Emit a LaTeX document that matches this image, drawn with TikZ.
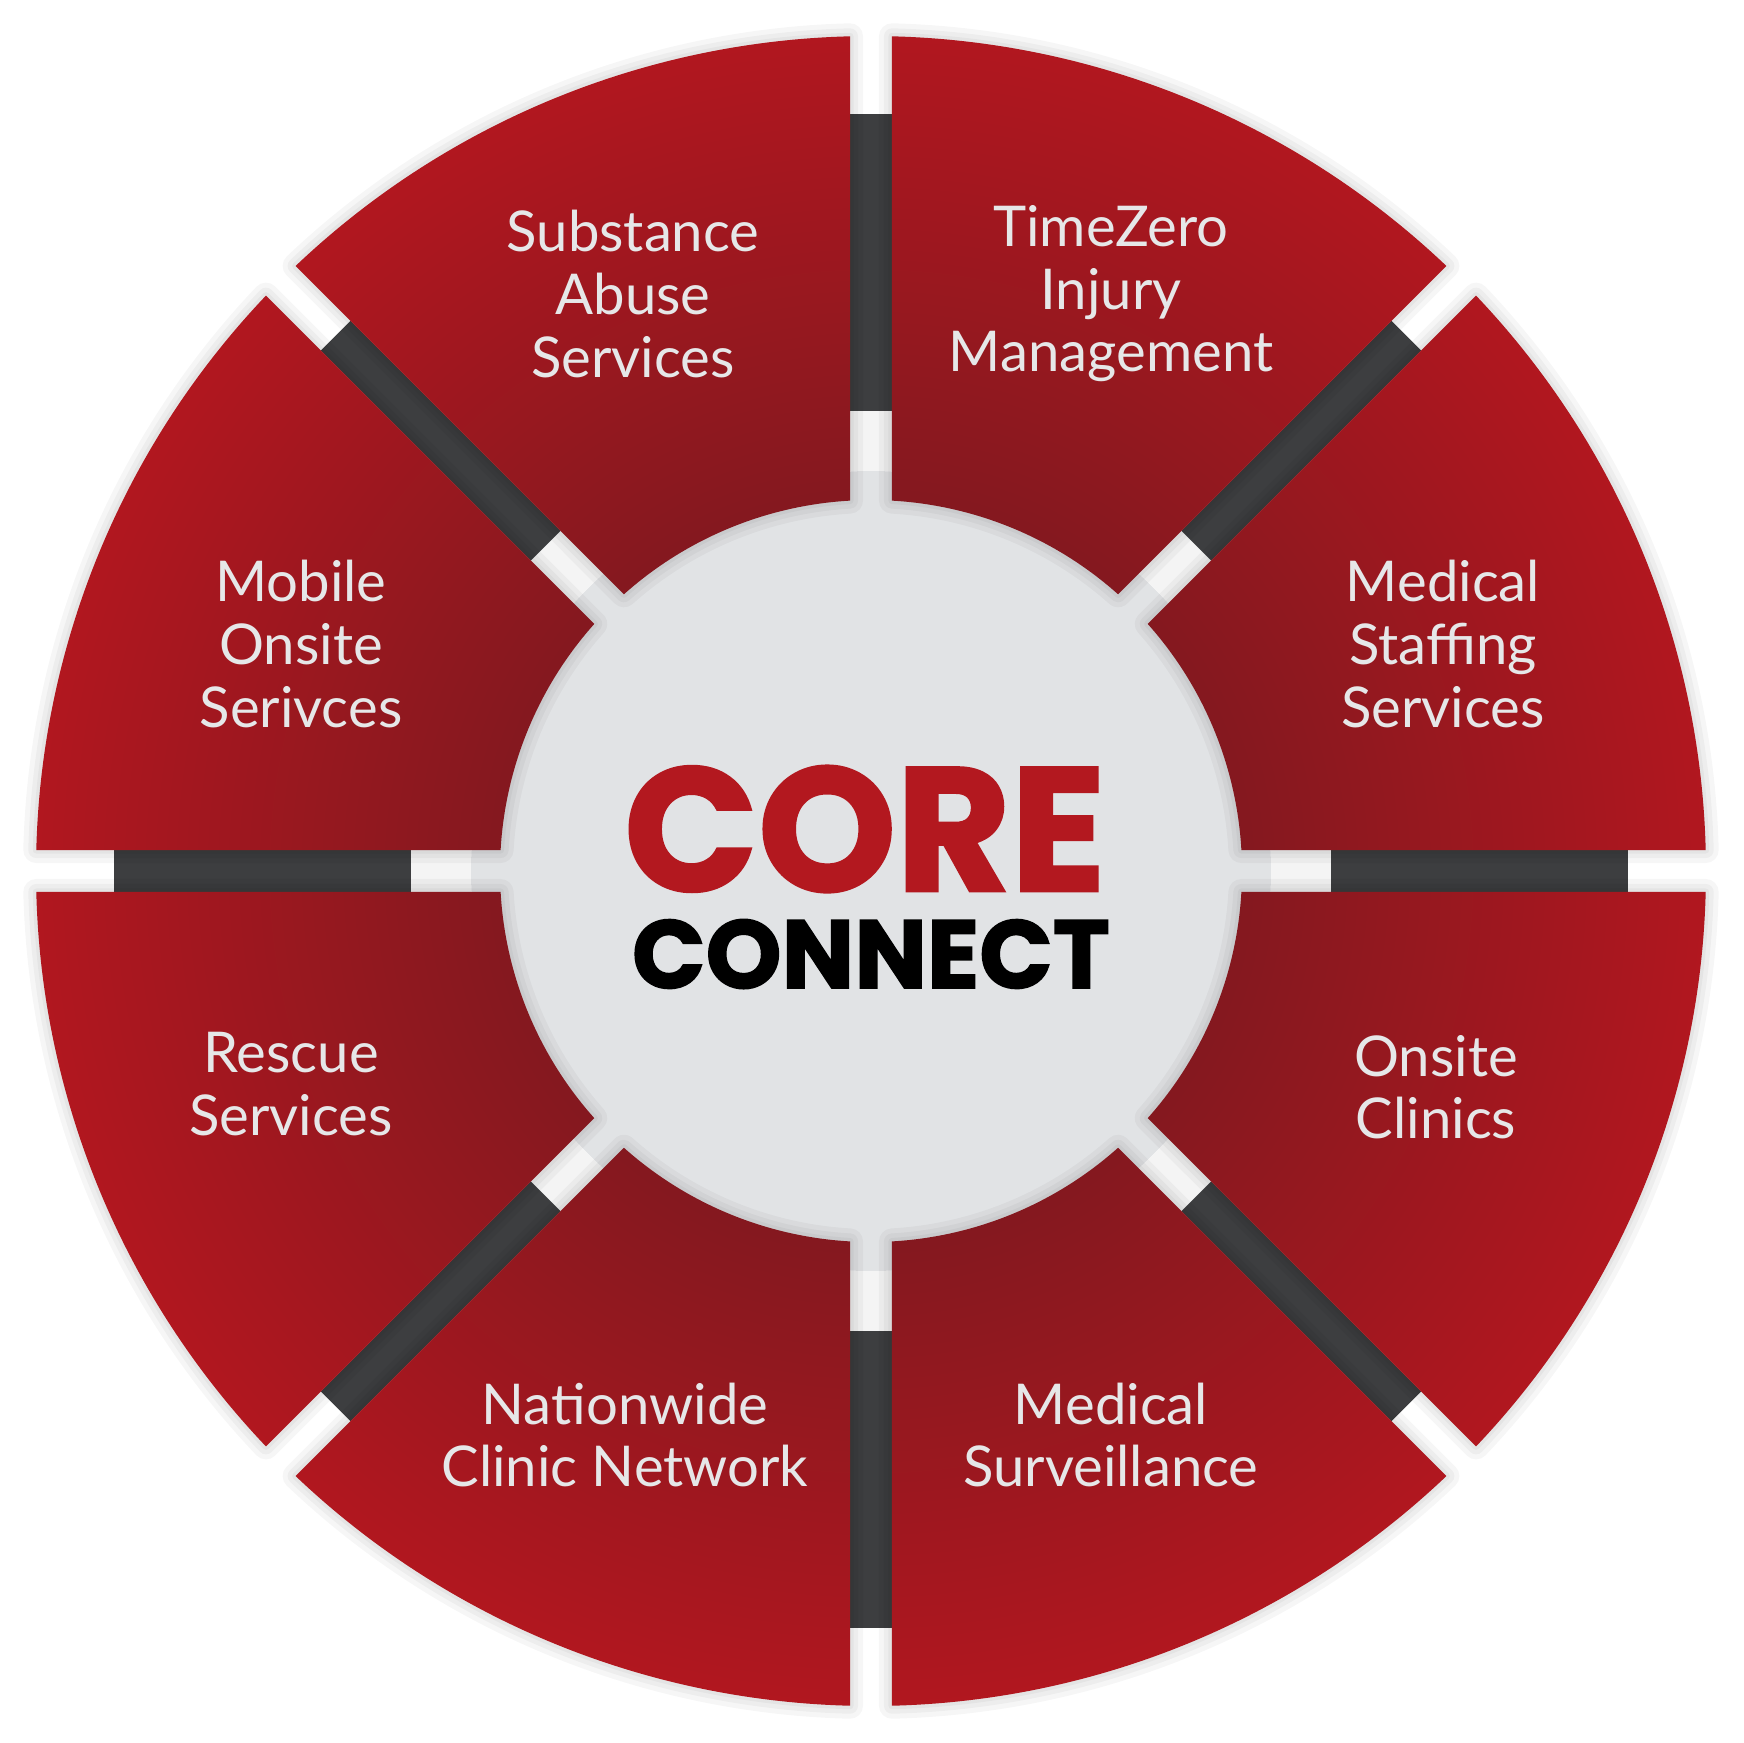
\documentclass[tikz,border=0pt]{standalone}
\usepackage{fontspec}
\setmainfont{Lato}
\newfontfamily\headfont{Poppins}[BoldFeatures={FakeBold=1.6}]
\usepackage{tikz}

\definecolor{coreRed}{HTML}{B3181F}
\definecolor{sectorDark}{HTML}{84181F}
\definecolor{sectorLight}{HTML}{B1171F}
\definecolor{barGray}{HTML}{3D3E40}
\definecolor{hubGray}{HTML}{E1E3E5}
\definecolor{tipWhite}{HTML}{F4F4F4}
\definecolor{labelWhite}{HTML}{E6E7E8}

\pgfdeclareradialshading{sectorshade}{\pgfpoint{0bp}{0bp}}{color(0bp)=(sectorDark); color(11bp)=(sectorDark); color(25bp)=(sectorLight); color(50bp)=(sectorLight)}

\begin{document}
\begin{tikzpicture}[
		sectorpath/.style={insert path={(#1+3.24:3.71) -- (#1+1.44:8.35) arc[start angle=#1+1.44, end angle=#1+43.56, radius=8.35] -- (#1+41.76:3.71) arc[start angle=#1+41.76, end angle=#1+3.24, radius=3.71] -- cycle}},
		redfill/.style={shading=sectorshade},
		glow/.style={draw=black, opacity=0.035, line join=round},
		sectortext/.style={text=labelWhite, align=center, font=\fontsize{16}{17.8}\selectfont}
	]
		\fill [white] (-8.71,-8.71) rectangle (8.73,8.71);
		\useasboundingbox (-8.71,-8.71) rectangle (8.73,8.71);

		\fill [hubGray] (0,0) circle (4.0);
		\foreach \a in {0,45,...,315} {
			\draw [line width=0.42cm, tipWhite] (\a:4.0) -- (\a:4.6);
			\draw [line width=0.42cm, barGray] (\a:4.6) -- (\a:7.57);
		}

		\foreach \a in {0,45,...,315} {
			\path [glow, line width=0.26cm, sectorpath=\a];
			\path [glow, line width=0.16cm, sectorpath=\a];
			\path [glow, line width=0.07cm, sectorpath=\a];
			\begin{scope}
				\clip [sectorpath=\a];
				\shade [redfill] (0,0) circle (8.35);
			\end{scope}
		}

		\node [sectortext] (substance) at (-2.38, 5.77) {Substance\\Abuse\\Services};
		\node [sectortext] (timezero) at (2.40, 5.77) {TimeZero\\Injury\\Management};
		\node [sectortext] (mobile) at (-5.70, 2.27) {Mobile\\Onsite\\Serivces};
		\node [sectortext] (staffing) at (5.72, 2.27) {Medical\\Staffing\\Services};
		\node [sectortext] (rescue) at (-5.80, -2.13) {Rescue\\Services};
		\node [sectortext] (clinics) at (5.65, -2.16) {Onsite\\Clinics};
		\node [sectortext] (network) at (-2.46, -5.64) {Nationwide\\Clinic Network};
		\node [sectortext] (surveillance) at (2.40, -5.64) {Medical\\Surveillance};

		\node [inner sep=0, text=coreRed, font=\headfont\bfseries\fontsize{50}{50}\selectfont] (core) at (-0.06, 0.42) {CORE};
		\node [inner sep=0, text=black, font=\headfont\bfseries\fontsize{27.5}{27.5}\selectfont] (connect) at (0.0, -0.83) {CONNECT};

	\end{tikzpicture}
\end{document}
